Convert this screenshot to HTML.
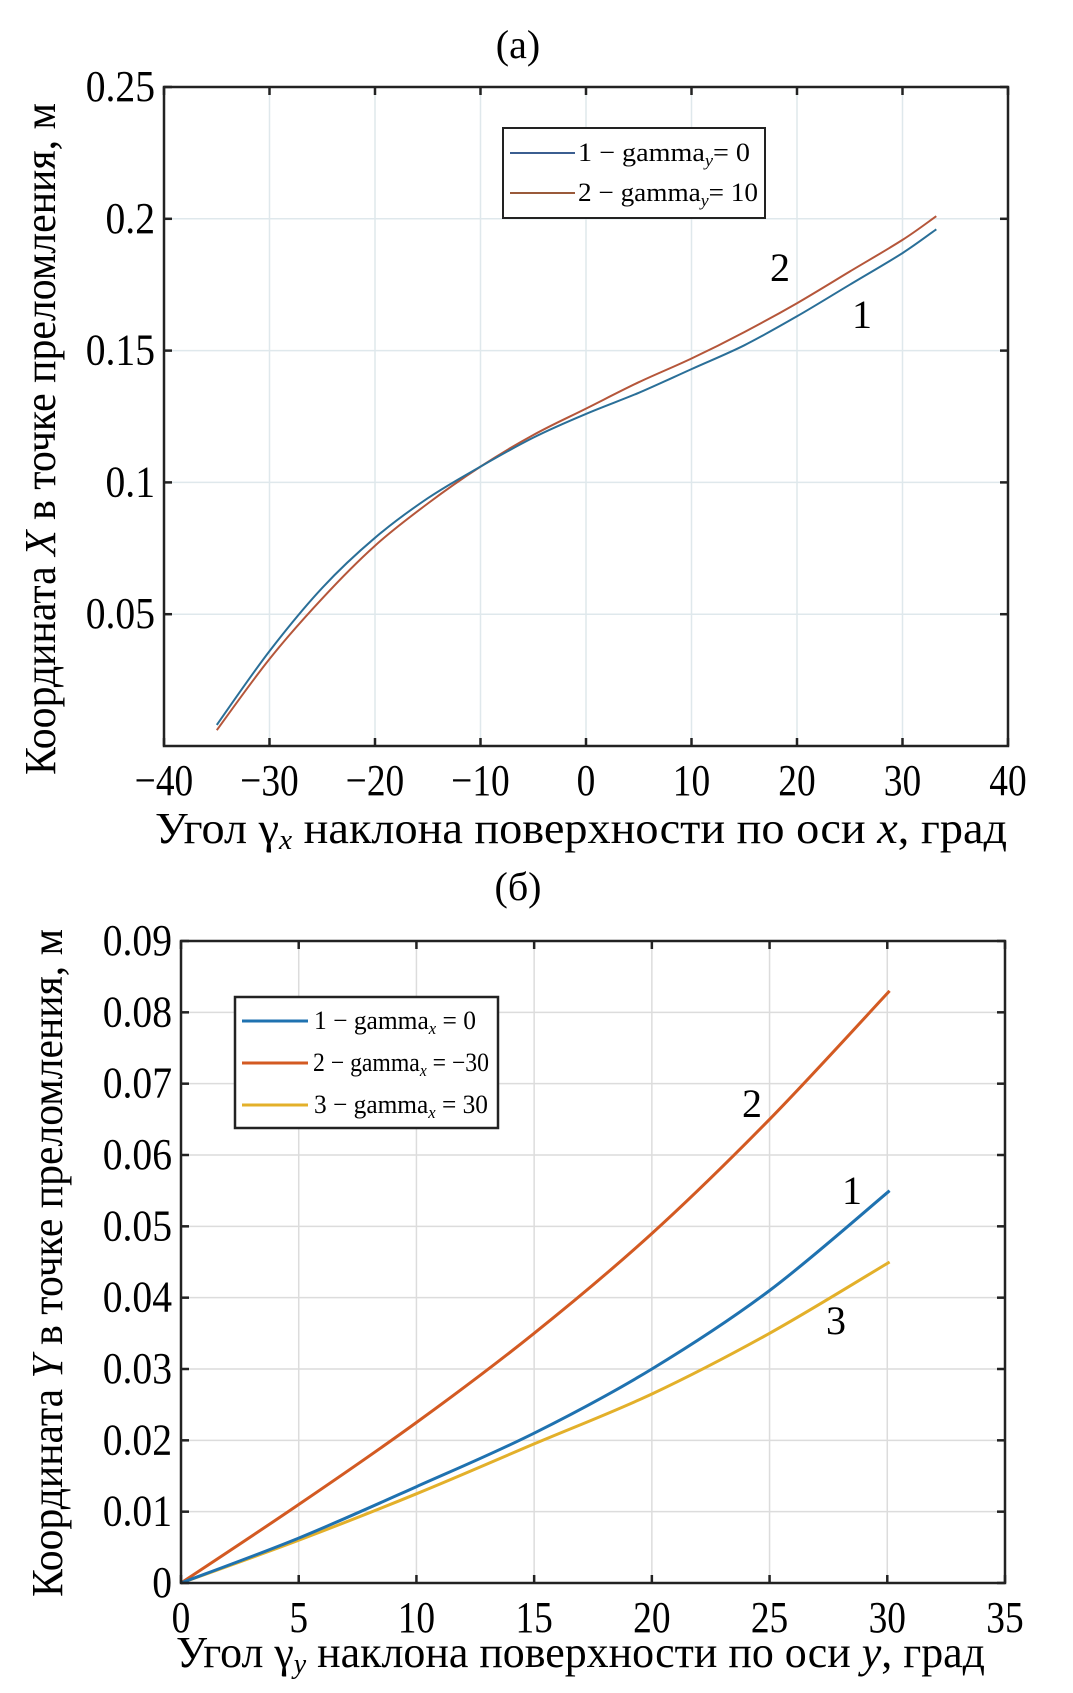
<!DOCTYPE html>
<html><head><meta charset="utf-8"><style>
html,body{margin:0;padding:0;background:#fff;}
svg{display:block;font-family:"Liberation Serif","DejaVu Serif",serif;}
</style></head><body>
<svg id="fig" width="1073" height="1693" viewBox="0 0 1073 1693" xmlns="http://www.w3.org/2000/svg">
<rect width="1073" height="1693" fill="#fff"/>
<g id="pa"></g>
<g id="pb"></g>
</svg>
<script>
// Chart (a) data
const aX = [-35,-30,-25,-20,-15,-10,-5,0,5,10,15,20,25,30,33.2];
const aS1 = [0.008,0.036,0.060,0.079,0.094,0.106,0.117,0.126,0.134,0.143,0.152,0.163,0.175,0.187,0.196];
const aS2 = [0.006,0.033,0.056,0.076,0.092,0.106,0.118,0.128,0.138,0.147,0.157,0.168,0.180,0.192,0.201];
const aXTicks = [-40,-30,-20,-10,0,10,20,30,40];
const aYTicks = [0.05,0.1,0.15,0.2,0.25];
const aYTickLabels = ["0.05","0.1","0.15","0.2","0.25"];
// Chart (b) data
const bX = [0,5,10,15,20,25,30.1];
const bS1 = [0,0.0063,0.0135,0.021,0.030,0.041,0.055];
const bS2 = [0,0.011,0.0225,0.035,0.049,0.065,0.083];
const bS3 = [0,0.006,0.0125,0.0195,0.0265,0.035,0.045];
const bXTicks = [0,5,10,15,20,25,30,35];
const bYTicks = [0,0.01,0.02,0.03,0.04,0.05,0.06,0.07,0.08,0.09];
const bYTickLabels = ["0","0.01","0.02","0.03","0.04","0.05","0.06","0.07","0.08","0.09"];

const NS="http://www.w3.org/2000/svg";
function mk(parent,tag,attrs,text){const e=document.createElementNS(NS,tag);for(const k in attrs)e.setAttribute(k,attrs[k]);if(text!==undefined)e.textContent=text;parent.appendChild(e);return e;}
function lin(d0,d1,r0,r1){return v=>r0+(v-d0)*(r1-r0)/(d1-d0);}
function smoothPath(pts){
  let d='M'+pts[0][0].toFixed(1)+','+pts[0][1].toFixed(1);
  for(let i=0;i<pts.length-1;i++){
    const p0=pts[Math.max(0,i-1)],p1=pts[i],p2=pts[i+1],p3=pts[Math.min(pts.length-1,i+2)];
    const c1=[p1[0]+(p2[0]-p0[0])/6,p1[1]+(p2[1]-p0[1])/6];
    const c2=[p2[0]-(p3[0]-p1[0])/6,p2[1]-(p3[1]-p1[1])/6];
    d+=` C${c1[0].toFixed(1)},${c1[1].toFixed(1)} ${c2[0].toFixed(1)},${c2[1].toFixed(1)} ${p2[0].toFixed(1)},${p2[1].toFixed(1)}`;
  }
  return d;
}

function drawChart(g,cfg){
  const xs=lin(cfg.xd[0],cfg.xd[1],cfg.L,cfg.R), ys=lin(cfg.yd[0],cfg.yd[1],cfg.B,cfg.T);
  cfg.xt.forEach(t=>{const x=xs(t);const l=mk(g,'line',{x1:x,x2:x,y1:cfg.T,y2:cfg.B,stroke:cfg.grid,'stroke-width':1.5});
    
    });
  cfg.yt.forEach(t=>{const y=ys(t);const l=mk(g,'line',{x1:cfg.L,x2:cfg.R,y1:y,y2:y,stroke:cfg.grid,'stroke-width':1.5});
    
    });
  cfg.series.forEach(s=>{
    const pts=cfg.x.map((v,i)=>[xs(v),ys(s.v[i])]);
    const p=mk(g,'path',{d:smoothPath(pts),fill:'none',stroke:s.c,'stroke-width':s.w,'stroke-linejoin':'round'});
    
    
  });
  const fr=mk(g,'rect',{x:cfg.L,y:cfg.T,width:cfg.R-cfg.L,height:cfg.B-cfg.T,fill:'none',stroke:'#222','stroke-width':2.5});
  
  
  cfg.xt.forEach((t,i)=>{const x=xs(t);
    mk(g,'line',{x1:x,x2:x,y1:cfg.B,y2:cfg.B-8,stroke:'#222','stroke-width':2.5});
    mk(g,'line',{x1:x,x2:x,y1:cfg.T,y2:cfg.T+8,stroke:'#222','stroke-width':2.5});
    const tx=mk(g,'text',{x:x,y:cfg.B+49,'font-size':44,'text-anchor':'middle',transform:`translate(${x} 0) scale(0.85 1) translate(${-x} 0)`},cfg.xl[i]);
    
    });
  cfg.yt.forEach((t,i)=>{const y=ys(t);
    mk(g,'line',{x1:cfg.L,x2:cfg.L+8,y1:y,y2:y,stroke:'#222','stroke-width':2.5});
    mk(g,'line',{x1:cfg.R,x2:cfg.R-8,y1:y,y2:y,stroke:'#222','stroke-width':2.5});
    const ax=cfg.L-9;
    const tx=mk(g,'text',{x:ax,y:y+14,'font-size':44,'text-anchor':'end',transform:`translate(${ax} 0) scale(0.9 1) translate(${-ax} 0)`},cfg.yl[i]);
    
    });
}

const ga=document.getElementById('pa');
drawChart(ga,{L:164,R:1008,T:87,B:746,xd:[-40,40],yd:[0,0.25],grid:'#dfe8ec',
  xt:aXTicks,xl:aXTicks.map(t=>t<0?'\u2212'+(-t):String(t)),yt:aYTicks,yl:aYTickLabels,x:aX,
  series:[{v:aS2,c:'#b5563a',w:2,name:'series-2-gamma-y-10'},{v:aS1,c:'#2a6f98',w:2,name:'series-1-gamma-y-0'}]});
const gb=document.getElementById('pb');
drawChart(gb,{L:181,R:1005,T:941,B:1583,xd:[0,35],yd:[0,0.09],grid:'#dcdcdc',
  xt:bXTicks,xl:bXTicks.map(String),yt:bYTicks,yl:bYTickLabels,x:bX,
  series:[{v:bS2,c:'#d35a22',w:3,name:'series-2-gamma-x-minus30'},{v:bS3,c:'#e3b02a',w:3,name:'series-3-gamma-x-30'},{v:bS1,c:'#1f72b0',w:3,name:'series-1-gamma-x-0'}]});
</script>
<svg style="position:absolute;left:0;top:0" width="1073" height="1693" xmlns="http://www.w3.org/2000/svg" font-family="Liberation Serif, serif">
<text x="518" y="58" font-size="40" text-anchor="middle">(а)</text>
<text x="518" y="900" font-size="40" text-anchor="middle">(б)</text>
<g>
<rect x="503" y="128" width="262" height="90" fill="#fff" stroke="#222" stroke-width="2"/>
<line x1="510" x2="575" y1="153" y2="153" stroke="#3b5e90" stroke-width="2"/>
<text x="578" y="161" font-size="26" textLength="172" lengthAdjust="spacingAndGlyphs">1 − gamma<tspan font-size="17" font-style="italic" dy="5">y</tspan><tspan dy="-5">= 0</tspan></text>
<line x1="510" x2="575" y1="193" y2="193" stroke="#9a5a3a" stroke-width="2"/>
<text x="578" y="201" font-size="26" textLength="180" lengthAdjust="spacingAndGlyphs">2 − gamma<tspan font-size="17" font-style="italic" dy="5">y</tspan><tspan dy="-5">= 10</tspan></text>
</g>
<g>
<rect x="235" y="997" width="263" height="131" fill="#fff" stroke="#222" stroke-width="2.5"/>
<line x1="242" x2="308" y1="1021" y2="1021" stroke="#1f72b0" stroke-width="3"/>
<text x="314" y="1029" font-size="26" textLength="162" lengthAdjust="spacingAndGlyphs">1 − gamma<tspan font-size="17" font-style="italic" dy="5">x</tspan><tspan dy="-5"> = 0</tspan></text>
<line x1="242" x2="308" y1="1063" y2="1063" stroke="#d35a22" stroke-width="3"/>
<text x="313" y="1071" font-size="26" textLength="176" lengthAdjust="spacingAndGlyphs">2 − gamma<tspan font-size="17" font-style="italic" dy="5">x</tspan><tspan dy="-5"> = −30</tspan></text>
<line x1="242" x2="308" y1="1105" y2="1105" stroke="#e3b02a" stroke-width="3"/>
<text x="314" y="1113" font-size="26" textLength="174" lengthAdjust="spacingAndGlyphs">3 − gamma<tspan font-size="17" font-style="italic" dy="5">x</tspan><tspan dy="-5"> = 30</tspan></text>
</g>
<text x="780" y="281" font-size="40" text-anchor="middle">2</text>
<text x="862" y="328" font-size="40" text-anchor="middle">1</text>
<text x="752" y="1117" font-size="40" text-anchor="middle">2</text>
<text x="852" y="1204" font-size="40" text-anchor="middle">1</text>
<text x="836" y="1334" font-size="40" text-anchor="middle">3</text>
<text x="155" y="843" font-size="44" textLength="852" lengthAdjust="spacingAndGlyphs">Угол γ<tspan font-size="28" font-style="italic" dy="6">x</tspan><tspan dy="-6"> наклона поверхности по оси </tspan><tspan font-style="italic">x</tspan>, град</text>
<text x="176" y="1667" font-size="44" textLength="809" lengthAdjust="spacingAndGlyphs">Угол γ<tspan font-size="28" font-style="italic" dy="6">y</tspan><tspan dy="-6"> наклона поверхности по оси </tspan><tspan font-style="italic">y</tspan>, град</text>
<text transform="translate(55 775) rotate(-90)" font-size="44" textLength="672" lengthAdjust="spacingAndGlyphs">Координата <tspan font-style="italic">X</tspan> в точке преломления, м</text>
<text transform="translate(62 1597) rotate(-90)" font-size="44" textLength="668" lengthAdjust="spacingAndGlyphs">Координата <tspan font-style="italic">Y</tspan> в точке преломления, м</text>
</svg>
</body></html>
